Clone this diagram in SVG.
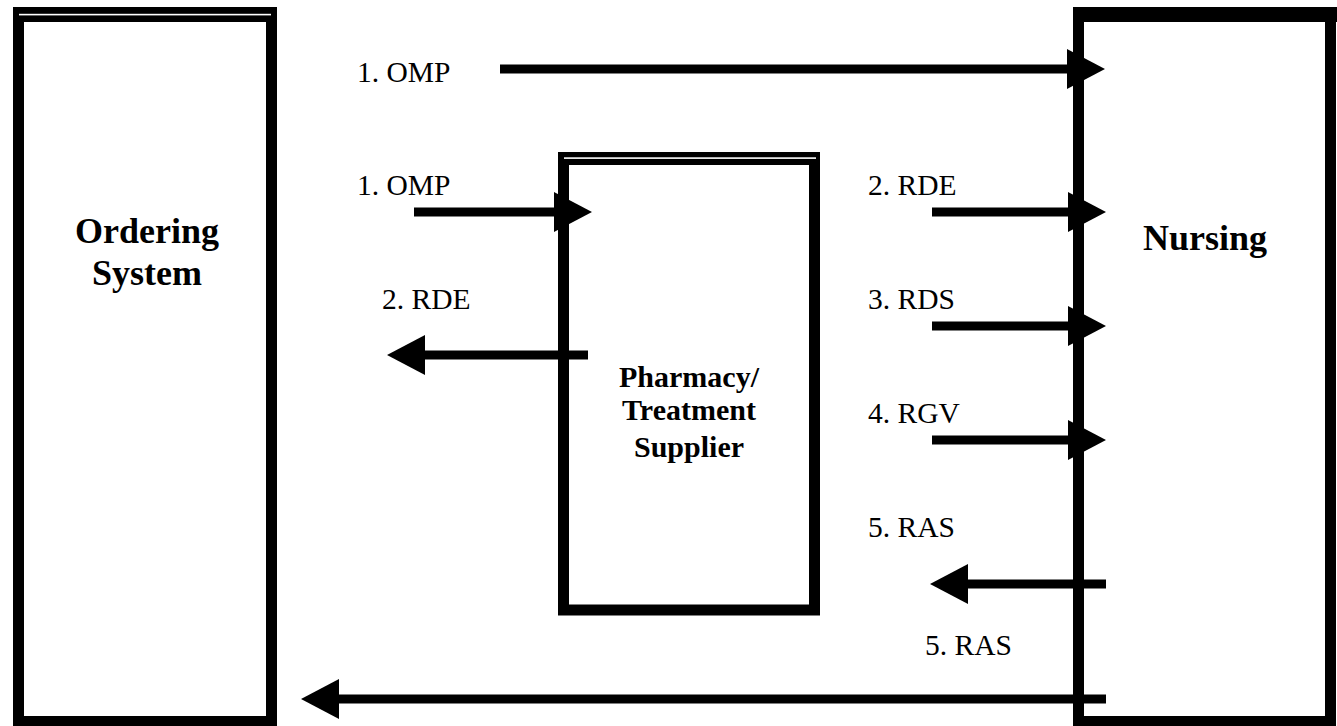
<svg xmlns="http://www.w3.org/2000/svg" width="1337" height="726" viewBox="0 0 1337 726">
<style>
.box{fill:#fff;stroke:#000;stroke-width:11}
.band{fill:#000}
.hl{fill:#fff}
.lbl{font-family:"Liberation Serif","Times New Roman",serif;font-size:29.5px;fill:#000}
.title{font-family:"Liberation Serif","Times New Roman",serif;font-weight:bold;font-size:36px;fill:#000;text-anchor:middle}
.sub{font-family:"Liberation Serif","Times New Roman",serif;font-weight:bold;font-size:30px;fill:#000;text-anchor:middle}
.conn{stroke:#000;stroke-width:9;fill:none;marker-end:url(#ah)}
</style>
<defs>
<marker id="ah" markerUnits="userSpaceOnUse" markerWidth="40" markerHeight="40" viewBox="0 0 38 40" refX="0" refY="20" orient="auto">
<path d="M0,0 L38,20 L0,40 z" fill="#000"/>
</marker>
</defs>
<rect width="1337" height="726" fill="#fff"/>
<g id="ordering-system">
<rect class="box" x="18.5" y="12.5" width="253" height="709"/>
<rect class="band" x="13" y="7" width="264" height="15"/>
<rect class="hl" x="19" y="13.8" width="252" height="1.6"/>
<text class="title" x="147" y="243">Ordering</text>
<text class="title" x="147" y="285">System</text>
</g>
<g id="pharmacy">
<rect class="box" x="563.5" y="157.5" width="251" height="452.5"/>
<rect class="band" x="558" y="152" width="262" height="13"/>
<rect class="hl" x="564" y="157.3" width="252" height="1.6"/>
<text class="sub" x="689" y="387">Pharmacy/</text>
<text class="sub" x="689" y="420">Treatment</text>
<text class="sub" x="689" y="457">Supplier</text>
</g>
<g id="nursing">
<rect class="box" x="1078.5" y="12.5" width="252" height="709"/>
<rect class="band" x="1073" y="7" width="264" height="15"/>
<text class="title" x="1205" y="250">Nursing</text>
</g>
<g id="connectors">
<line class="conn" x1="500" y1="69" x2="1067" y2="69"/>
<line class="conn" x1="414" y1="212" x2="554" y2="212"/>
<line class="conn" x1="588" y1="355" x2="425" y2="355"/>
<line class="conn" x1="932" y1="212" x2="1068" y2="212"/>
<line class="conn" x1="932" y1="326" x2="1068" y2="326"/>
<line class="conn" x1="932" y1="440" x2="1068" y2="440"/>
<line class="conn" x1="1106" y1="584" x2="968" y2="584"/>
<line class="conn" x1="1106" y1="699" x2="339" y2="699"/>
</g>
<g id="labels">
<text class="lbl" x="357" y="82">1. OMP</text>
<text class="lbl" x="357" y="195">1. OMP</text>
<text class="lbl" x="382" y="309">2. RDE</text>
<text class="lbl" x="868" y="195">2. RDE</text>
<text class="lbl" x="868" y="309">3. RDS</text>
<text class="lbl" x="868" y="423">4. RGV</text>
<text class="lbl" x="868" y="537">5. RAS</text>
<text class="lbl" x="925" y="655">5. RAS</text>
</g>
</svg>
